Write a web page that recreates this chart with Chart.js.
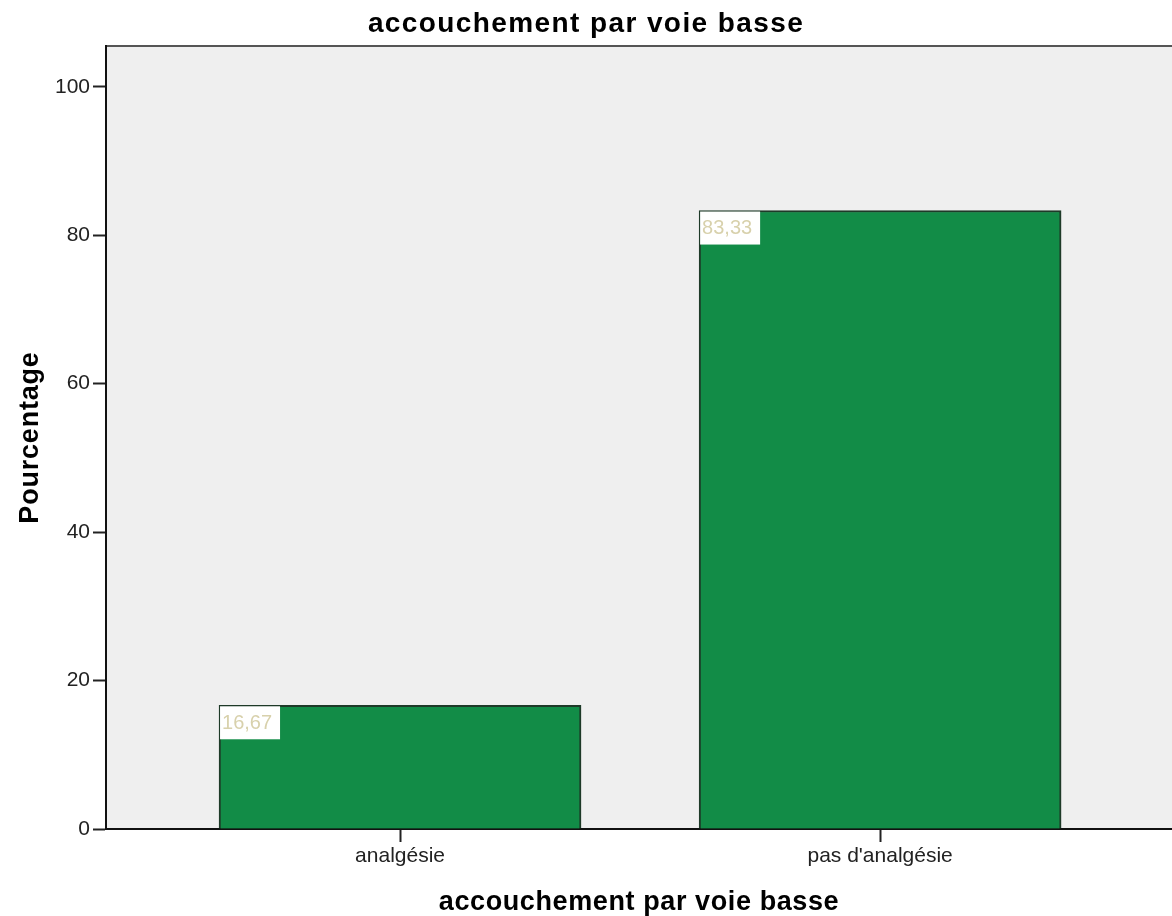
<!DOCTYPE html>
<html>
<head>
<meta charset="utf-8">
<title>accouchement par voie basse</title>
<script src="https://cdn.jsdelivr.net/npm/chart.js@4/dist/chart.umd.min.js"></script>
<style>
  html, body { margin: 0; padding: 0; background: #fff; }
  canvas { display: block; }
</style>
</head>
<body>
<canvas id="chart" width="1172" height="916"></canvas>
<script>
const categories = ['analgésie', "pas d'analgésie"];
const pourcentages = [16.67, 83.33];
const yTicks = [0, 20, 40, 60, 80, 100];

const titre = 'accouchement par voie basse';
const titreX = 'accouchement par voie basse';
const titreY = 'Pourcentage';

const boldFont = '"Liberation Sans", Arial, sans-serif';

// fond gris de la zone de tracé + bordure du haut
const plotBackground = {
    id: 'plotBackground',
    beforeDraw(chart) {
        const {ctx, chartArea} = chart;
        ctx.save();
        ctx.fillStyle = '#efefef';
        ctx.fillRect(chartArea.left, chartArea.top, chartArea.right - chartArea.left, chartArea.bottom - chartArea.top);
        ctx.strokeStyle = '#555';
        ctx.lineWidth = 2;
        ctx.beginPath();
        ctx.moveTo(chartArea.left, chartArea.top);
        ctx.lineTo(chartArea.right, chartArea.top);
        ctx.stroke();
        ctx.restore();
    }
};

// étiquettes de valeur dans le coin haut gauche des barres
const valueLabels = {
    id: 'valueLabels',
    afterDatasetsDraw(chart) {
        const {ctx} = chart;
        const meta = chart.getDatasetMeta(0);
        ctx.save();
        ctx.font = '20px "Liberation Sans", Arial, sans-serif';
        ctx.textBaseline = 'middle';
        ctx.textAlign = 'left';
        meta.data.forEach((bar, i) => {
            const left = bar.x - bar.width / 2 + 1;
            const top = bar.y + 1;
            ctx.fillStyle = '#ffffff';
            ctx.fillRect(left, top, 60, 33);
            ctx.fillStyle = '#d8d1ac';
            ctx.fillText(pourcentages[i].toFixed(2).replace('.', ','), left + 2, top + 17);
        });
        ctx.restore();
    }
};

// titres (lettres légèrement espacées)
const spacedTitles = {
    id: 'spacedTitles',
    afterDraw(chart) {
        const {ctx, chartArea} = chart;
        ctx.save();
        ctx.fillStyle = '#000';
        ctx.textAlign = 'center';
        ctx.textBaseline = 'alphabetic';

        ctx.font = 'bold 28px ' + boldFont;
        ctx.letterSpacing = '1.4px';
        ctx.fillText(titre, chart.width / 2, 32);

        ctx.font = 'bold 27px ' + boldFont;
        ctx.letterSpacing = '0.6px';
        ctx.fillText(titreX, (chartArea.left + chartArea.right) / 2, 910);

        ctx.letterSpacing = '0.8px';
        ctx.translate(38, (chartArea.top + chartArea.bottom) / 2);
        ctx.rotate(-Math.PI / 2);
        ctx.fillText(titreY, 0, 0);
        ctx.restore();
    }
};

new Chart(document.getElementById('chart').getContext('2d'), {
    type: 'bar',
    data: {
        datasets: [{
            data: categories.map((c, i) => ({x: i, y: pourcentages[i]})),
            backgroundColor: '#128c47',
            borderColor: '#1e3a28',
            borderWidth: 2,
            borderSkipped: 'bottom',
            barThickness: 362
        }]
    },
    options: {
        responsive: false,
        animation: false,
        layout: {
            padding: {top: 46, right: 0, bottom: 0, left: 0}
        },
        plugins: {
            legend: {display: false},
            title: {display: false},
            tooltip: {enabled: false}
        },
        scales: {
            x: {
                type: 'linear',
                offset: false,
                min: -0.6125,
                max: 1.608,
                afterBuildTicks: scale => {
                    scale.ticks = categories.map((c, i) => ({value: i}));
                },
                afterFit: scale => {
                    scale.height = 87;
                },
                ticks: {
                    callback: v => categories[v],
                    color: '#222',
                    font: {family: '"Liberation Sans", Arial, sans-serif', size: 21},
                    padding: 2,
                    maxRotation: 0,
                    autoSkip: false
                },
                grid: {
                    offset: false,
                    drawOnChartArea: false,
                    drawTicks: true,
                    tickLength: 13,
                    tickColor: '#222',
                    tickWidth: 2
                },
                border: {display: true, color: '#111', width: 2}
            },
            y: {
                min: 0,
                max: 105.5,
                afterBuildTicks: scale => {
                    scale.ticks = yTicks.map(v => ({value: v}));
                },
                afterFit: scale => {
                    scale.width = 106;
                },
                ticks: {
                    color: '#222',
                    font: {family: '"Liberation Sans", Arial, sans-serif', size: 21},
                    padding: 3
                },
                grid: {
                    drawOnChartArea: false,
                    drawTicks: true,
                    tickLength: 13,
                    tickColor: '#222',
                    tickWidth: 2
                },
                border: {display: true, color: '#111', width: 2}
            }
        }
    },
    plugins: [plotBackground, valueLabels, spacedTitles]
});
</script>
</body>
</html>
